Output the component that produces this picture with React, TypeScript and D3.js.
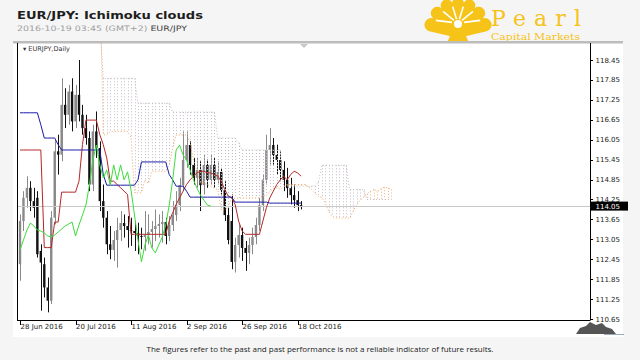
import React from "react";
import * as d3 from "d3";

const xTickBars = [0, 16, 32, 48, 64, 80];
const xTickLabels = ["28 Jun 2016", "20 Jul 2016", "11 Aug 2016", "2 Sep 2016", "26 Sep 2016", "18 Oct 2016"];
const yTicks = [118.45, 117.85, 117.25, 116.65, 116.05, 115.45, 114.85, 114.25, 113.65, 113.05, 112.45, 111.85, 111.25, 110.65];
const lastPrice = 114.05;
const chikouShift = 26;

const opens = [
  112.3, 113.6, 114.3, 114.6, 114.2, 114.3, 112.7, 112.3, 111.6, 111.2,
  113.7, 115.7, 115.6, 117.1, 116.8, 117.5, 116.6, 117.4, 116.8, 116.4,
  116.1, 114.7, 116.3, 115.8, 114.2, 113.7, 112.9, 112.73, 113.03, 113.33,
  113.54, 113.45, 113.33, 113.3, 113.24, 113.15, 113.12, 113.18, 113.27, 113.36,
  113.45, 113.51, 113.57, 113.15, 113.48, 113.78, 114.08, 114.68, 115.44, 115.89,
  115.29, 114.9, 115.14, 114.68, 115.29, 114.84, 115.29, 114.84, 115.08, 114.53,
  113.78, 113.6, 112.37, 112.88, 113.18, 112.79, 112.64, 112.88, 113.12, 113.48,
  114.08, 114.84, 115.74, 115.89, 115.59, 115.44, 115.14, 114.84, 114.59, 114.38,
  114.23, 114.08,
];
const highs = [
  113.8, 114.5, 114.95, 114.8, 114.6, 114.5, 112.9, 112.5, 111.9, 113.9,
  116.05, 116.2, 117.9, 117.6, 117.7, 117.9, 117.7, 118.45, 117.1, 116.8,
  116.3, 116.5, 116.9, 116.0, 114.7, 113.9, 113.45, 113.3, 113.7, 113.9,
  113.8, 113.75, 113.7, 113.6, 113.55, 113.4, 113.9, 113.8, 113.6, 113.95,
  113.8, 113.9, 113.7, 113.75, 114.2, 114.5, 114.9, 116.3, 116.3, 116.0,
  115.5, 115.5, 115.4, 115.6, 115.45, 115.6, 115.5, 115.4, 115.2, 114.8,
  114.0, 114.4, 113.1, 113.5, 113.4, 113.0, 113.1, 113.4, 113.7, 114.3,
  115.0, 116.2, 116.4, 116.1, 115.9, 115.7, 115.4, 115.2, 114.9, 114.7,
  114.5, 114.2,
];
const lows = [
  111.8, 113.3, 114.0, 113.9, 113.7, 112.5, 110.9, 111.3, 110.85, 111.1,
  113.5, 115.0, 115.4, 116.4, 116.5, 116.3, 116.4, 116.6, 116.2, 115.9,
  114.5, 114.5, 115.5, 113.9, 113.4, 112.6, 112.45, 112.4, 112.2, 113.0,
  113.1, 112.8, 112.85, 112.7, 112.6, 112.75, 112.7, 112.9, 112.8, 113.0,
  113.1, 112.95, 112.9, 113.0, 113.3, 113.6, 113.9, 114.5, 115.2, 115.0,
  114.7, 114.6, 113.9, 114.4, 114.6, 114.7, 114.6, 114.7, 114.4, 113.6,
  112.9, 112.15, 112.05, 112.5, 112.4, 112.1, 112.3, 112.6, 112.9, 113.3,
  113.9, 114.7, 115.3, 115.3, 115.0, 114.8, 114.5, 114.3, 114.1, 114.0,
  113.9, 113.95,
];
const closes = [
  113.6, 114.3, 114.6, 114.2, 114.0, 112.6, 112.35, 111.6, 111.2, 113.7,
  115.7, 115.6, 117.1, 116.8, 117.5, 116.6, 117.4, 116.8, 116.4, 116.1,
  114.7, 116.3, 115.8, 114.2, 113.7, 112.9, 112.73, 113.03, 113.33, 113.54,
  113.45, 113.33, 113.3, 113.24, 113.15, 113.12, 113.18, 113.27, 113.36, 113.45,
  113.51, 113.57, 113.15, 113.48, 113.78, 114.08, 114.68, 115.44, 115.89, 115.29,
  114.9, 115.14, 114.68, 115.29, 114.84, 115.29, 114.84, 115.08, 114.53, 113.78,
  113.03, 112.37, 112.88, 113.18, 112.79, 112.64, 112.88, 113.12, 113.48, 114.08,
  114.84, 115.74, 115.89, 115.59, 115.44, 115.14, 114.84, 114.59, 114.38, 114.23,
  114.08, 114.05,
];
const tenkan = [
  115.74, 115.74, 115.74, 115.74, 115.74, 115.74, 115.74, 112.8, 112.8, 112.8,
  113.57, 113.57, 114.47, 114.47, 114.47, 114.47, 114.47, 114.8, 115.9, 116.64,
  116.64, 116.64, 116.64, 116.2, 115.9, 115.5, 114.8, 114.8, 114.7, 114.6,
  114.5, 114.4, 113.2, 113.2, 113.2, 113.2, 113.2, 113.2, 113.2, 113.2,
  113.2, 113.2, 113.2, 113.6, 113.85, 114.1, 114.3, 114.5, 114.7, 114.84,
  114.95, 115.05, 115.1, 115.1, 115.05, 115.05, 115.0, 114.95, 114.8, 114.55,
  114.35, 114.3, 114.1, 113.6, 113.3, 113.2, 113.2, 113.2, 113.2, 113.2,
  113.6, 114.0, 114.3, 114.5, 114.7, 114.84, 114.95, 114.84, 115.0, 115.1,
  115.05, 114.95,
];
const kijun = [
  116.86, 116.86, 116.86, 116.86, 116.86, 116.86, 116.5, 116.1, 116.1, 116.1,
  116.1, 115.9, 115.74, 115.74, 115.74, 115.74, 115.74, 115.74, 115.74, 115.74,
  115.74, 115.74, 115.74, 115.74, 115.0, 114.68, 114.68, 114.68, 114.68, 114.68,
  114.68, 114.68, 114.68, 114.68, 114.84, 115.38, 115.38, 115.38, 115.38, 115.38,
  115.38, 115.38, 115.38, 115.0, 114.84, 114.65, 114.65, 114.65, 114.5, 114.32,
  114.32, 114.32, 114.32, 114.32, 114.32, 114.32, 114.32, 114.32, 114.32, 114.32,
  114.32, 114.32, 114.17, 114.17, 114.17, 114.17, 114.17, 114.17, 114.17, 114.17,
  114.17, 114.17, 114.14, 114.14, 114.14, 114.14, 114.14, 114.14, 114.14, 114.14,
  114.14, 114.14,
];
const spanA = [
  121.0, 121.0, 121.0, 121.0, 121.0, 121.0, 121.0, 121.0, 121.0, 121.0,
  121.0, 121.0, 121.0, 121.0, 121.0, 121.0, 121.0, 121.0, 121.0, 121.0,
  121.0, 121.0, 121.0, 121.0, 116.2, 116.2, 116.3, 116.3, 116.3, 116.3,
  116.3, 116.3, 116.12, 114.45, 114.45, 114.45, 114.84, 114.73, 115.1, 115.1,
  115.1, 115.1, 115.1, 115.27, 115.82, 116.19, 116.19, 116.19, 116.19, 115.97,
  115.45, 115.09, 114.74, 114.74, 114.7, 114.64, 114.59, 114.54, 113.94, 113.94,
  114.02, 114.29, 114.29, 114.29, 114.29, 114.29, 114.29, 114.29, 114.29, 114.3,
  114.35, 114.38, 114.48, 114.58, 114.6, 114.56, 114.64, 114.7, 114.7, 114.7,
  114.7, 114.7, 114.7, 114.64, 114.56, 114.44, 114.34, 114.31, 114.14, 113.89,
  113.74, 113.69, 113.69, 113.69, 113.69, 113.69, 113.89, 114.09, 114.22, 114.32,
  114.42, 114.49, 114.55, 114.49, 114.57, 114.62, 114.6, 114.55,
];
const spanB = [
  119.6, 119.6, 119.6, 119.6, 119.6, 119.6, 119.6, 119.6, 119.6, 119.6,
  119.6, 119.6, 119.6, 119.6, 119.6, 119.6, 119.6, 119.6, 119.6, 119.6,
  119.6, 119.6, 119.6, 119.6, 117.9, 117.9, 117.9, 117.9, 117.9, 117.9,
  117.9, 117.9, 117.9, 117.9, 117.15, 117.15, 117.15, 117.15, 117.15, 117.15,
  117.15, 117.15, 117.15, 117.15, 116.88, 116.88, 116.88, 116.88, 116.88, 116.88,
  116.88, 116.88, 116.88, 116.88, 116.88, 116.88, 116.88, 116.1, 116.1, 116.1,
  116.1, 116.1, 116.1, 115.95, 115.74, 115.74, 115.74, 115.74, 115.74, 115.74,
  115.74, 115.74, 115.74, 115.74, 115.74, 115.74, 114.65, 114.65, 114.65, 114.65,
  114.65, 114.65, 114.65, 114.65, 114.65, 114.65, 114.78, 115.28, 115.28, 115.28,
  115.28, 115.28, 115.28, 115.28, 115.28, 114.55, 114.55, 114.55, 114.55, 114.55,
  114.25, 114.25, 114.25, 114.25, 114.25, 114.25, 114.25, 114.25,
];

const PL = 17, PR = 590, PT = 43, PB = 320;
const gold = "#f6c319";

function Shell() {
  const cx = 458, cy = 36;
  const n = 7;
  const a0 = -172, a1 = -8;
  const pts: [number, number][] = [];
  for (let j = 0; j <= n; j++) {
    const a = ((a0 + (j * (a1 - a0)) / n) * Math.PI) / 180;
    pts.push([cx + 29 * Math.cos(a), cy + 34 * Math.sin(a)]);
  }
  let d = `M${cx},${cy + 2} L${pts[0][0]},${pts[0][1]}`;
  for (let j = 1; j <= n; j++) d += ` A6,6 0 0 1 ${pts[j][0]},${pts[j][1]}`;
  d += " Z";
  const rays = [];
  for (let j = 1; j < n; j++) {
    const a = ((a0 + (j * (a1 - a0)) / n) * Math.PI) / 180;
    rays.push(
      <line key={j} x1={cx + 7 * Math.cos(a)} y1={cy - 10 + 7 * Math.sin(a)} x2={cx + 26 * Math.cos(a)} y2={cy + 30 * Math.sin(a)} stroke="#fff" strokeWidth={1.6} />
    );
  }
  return (
    <g>
      <path d={d} fill={gold} />
      {rays}
      <circle cx={cx} cy={cy - 12} r={4} fill="#fff" />
      <path d={`M${cx - 8},${cy} L${cx + 8},${cy} L${cx + 11},${cy + 7} L${cx - 11},${cy + 7} Z`} fill={gold} />
    </g>
  );
}

export default function App() {
  const x = d3.scaleLinear().domain([0, 80]).range([20, 297.6]);
  const y = d3.scaleLinear().domain([110.65, 118.45]).range([319, 60]);
  const col = (i: number) => Math.round(x(i)) + 0.5;

  const lineGen = d3
    .line<number>()
    .x((_, i) => x(i))
    .y((d) => y(d));
  const chikou = closes.slice(chikouShift);

  const cloud = spanA.map((a, k) => {
    const b = spanB[k];
    const top = Math.max(a, b), bot = Math.min(a, b);
    return (
      <line key={k} x1={col(k)} x2={col(k)} y1={y(top)} y2={y(bot)} stroke={a >= b ? "#f0b888" : "#c4bcc6"} strokeWidth={1} strokeDasharray="1 2" />
    );
  });

  const candles = opens.map((o, i) => {
    const c = closes[i];
    const bull = c >= o;
    const color = bull ? "#8a8a8a" : "#111";
    const yt = y(Math.max(o, c)), yb = y(Math.min(o, c));
    return (
      <g key={i}>
        <line x1={col(i)} x2={col(i)} y1={y(highs[i])} y2={y(lows[i])} stroke={color} strokeWidth={1} />
        <rect x={x(i) - 1.2} y={yt} width={2.4} height={Math.max(1, yb - yt)} fill={color} />
      </g>
    );
  });

  return (
    <div style={{ position: "fixed", left: 0, top: 0 }}>
      <svg width={640} height={360} style={{ display: "block" }}>
        <defs>
          <clipPath id="plot">
            <rect x={PL + 1} y={PT} width={PR - PL - 1} height={PB - PT} />
          </clipPath>
        </defs>
        <rect x={0} y={0} width={640} height={360} fill="#f5f5f5" />
        <rect x={13} y={41} width={610} height={296} fill="#ffffff" />
        <text x={17} y={19} fontFamily="DejaVu Sans" fontWeight={700} fontSize={11} fill="#1e1e1e" textLength={186} lengthAdjust="spacingAndGlyphs">EUR/JPY: Ichimoku clouds</text>
        <text x={17} y={30.5} fontFamily="DejaVu Sans" fontSize={7.5} fill="#a0a0a0" textLength={170} lengthAdjust="spacingAndGlyphs">
          2016-10-19 03:45 (GMT+2) <tspan fill="#444">EUR/JPY</tspan>
        </text>
        <Shell />
        <text x={491} y={25.5} fontFamily="DejaVu Serif" fontSize={22} fill={gold} textLength={90} lengthAdjust="spacing">Pearl</text>
        <text x={491} y={39.8} fontFamily="DejaVu Serif" fontSize={9.5} fill={gold} textLength={89} lengthAdjust="spacingAndGlyphs">Capital Markets</text>

        <rect x={13} y={41} width={610} height={2.5} fill="#bcbcbc" />
        <g clipPath="url(#plot)">
          {candles}
          {cloud}
          <path d={lineGen(spanA) || ""} fill="none" stroke="#f4a460" strokeWidth={1} strokeDasharray="1 2" />
          <path d={lineGen(spanB) || ""} fill="none" stroke="#c4bcc6" strokeWidth={1} strokeDasharray="1 2" />
          <line x1={PL} x2={PR} y1={Math.round(y(lastPrice)) + 0.5} y2={Math.round(y(lastPrice)) + 0.5} stroke="#c8c8c8" strokeWidth={1} />
          <path d={lineGen(tenkan) || ""} fill="none" stroke="#b52828" strokeWidth={1} />
          <path d={lineGen(kijun) || ""} fill="none" stroke="#1c1ca8" strokeWidth={1} />
          <path d={lineGen(chikou) || ""} fill="none" stroke="#3ddc3d" strokeWidth={1} />
        </g>
        <path d={`M300,44 L308,44 L304,48 Z`} fill="#c8c8c8" />
        <text x={23} y={51} fontFamily="DejaVu Sans" fontSize={6.5} fill="#333">▾ EURJPY,Daily</text>

        <line x1={PL + 0.5} x2={PL + 0.5} y1={PT} y2={PB + 0.5} stroke="#000" />
        <line x1={PL} x2={PR} y1={PB + 0.5} y2={PB + 0.5} stroke="#000" />
        <line x1={PR + 0.5} x2={PR + 0.5} y1={PT} y2={PB + 0.5} stroke="#000" />

        {yTicks.map((t) => (
          <g key={t}>
            <line x1={PR} x2={PR + 3} y1={Math.round(y(t)) + 0.5} y2={Math.round(y(t)) + 0.5} stroke="#000" />
            <text x={595.5} y={y(t) + 2.5} fontFamily="DejaVu Sans" fontSize={7} fill="#222">{t.toFixed(2)}</text>
          </g>
        ))}
        <rect x={591} y={y(lastPrice) - 4.5} width={37} height={9} fill="#000" />
        <text x={595.5} y={y(lastPrice) + 2.5} fontFamily="DejaVu Sans" fontSize={7} fill="#fff">{lastPrice.toFixed(2)}</text>

        {xTickBars.map((b, j) => (
          <g key={b}>
            <line x1={col(b)} x2={col(b)} y1={PB} y2={PB + 5} stroke="#000" />
            <text x={x(b) + 0.5} y={328.5} fontFamily="DejaVu Sans" fontSize={7} fill="#222">{xTickLabels[j]}</text>
          </g>
        ))}

        <path d="M576,334 L580,328 L586,326 L590,322 L596,325 L602,323 L606,327 L612,329 L616,334 Z" fill="#555" />
        <line x1={604} x2={624} y1={334.5} y2={334.5} stroke="#9ab" />

        <text x={320} y={352} textAnchor="middle" fontFamily="Open Sans" fontSize={8} fill="#222">
          The figures refer to the past and past performance is not a reliable indicator of future results.
        </text>
      </svg>
    </div>
  );
}
